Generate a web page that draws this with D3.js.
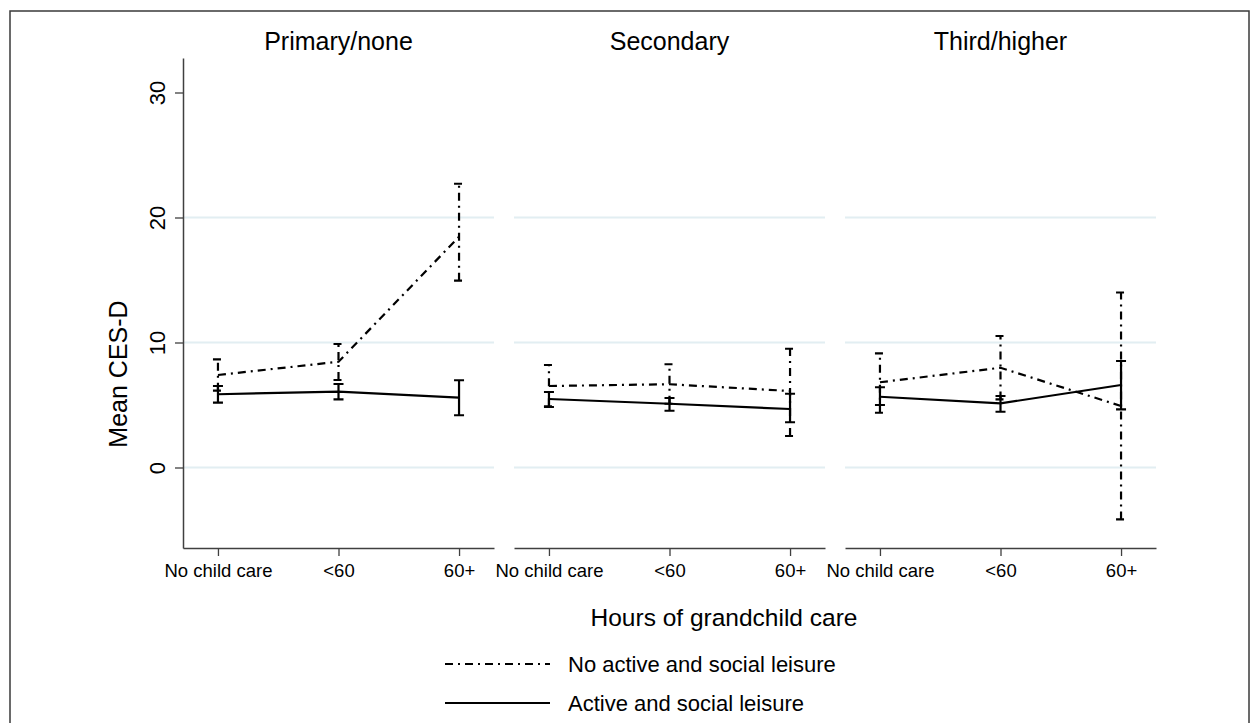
<!DOCTYPE html>
<html lang="en">
<head>
<meta charset="utf-8">
<title>Mean CES-D by hours of grandchild care</title>
<script src="https://d3js.org/d3.v7.min.js"></script>
<style>
  body { margin: 0; background: #fff; }
  svg { font-family: "Liberation Sans", Arial, sans-serif; }
</style>
</head>
<body>
<div id="chart"></div>
<script>
// categories and panels
var categories = ["No child care", "<60", "60+"];
var panels = ["Primary/none", "Secondary", "Third/higher"];
var yTicks = [0, 10, 20, 30];
var gridTicks = [0, 10, 20];

// No active and social leisure (dash-dot): mean, lower CI, upper CI per panel
var noLeisureMean = [[7.4, 8.46, 18.46], [6.52, 6.66, 6.12], [6.82, 7.98, 4.92]];
var noLeisureLo   = [[6.15, 7.0, 14.95], [4.9, 5.1, 2.52], [4.38, 5.45, -4.15]];
var noLeisureHi   = [[8.65, 9.88, 22.7], [8.2, 8.26, 9.5], [9.13, 10.52, 14.0]];

// Active and social leisure (solid)
var activeMean = [[5.86, 6.07, 5.59], [5.48, 5.1, 4.68], [5.66, 5.13, 6.6]];
var activeLo   = [[5.19, 5.45, 4.18], [4.84, 4.54, 3.62], [5.0, 4.46, 4.65]];
var activeHi   = [[6.52, 6.68, 6.98], [6.04, 5.56, 5.9], [6.42, 5.72, 8.52]];

var W = 1251, H = 723,
    plotTop = 58, plotBottom = 548,
    panelLeft = [183, 514, 845],
    panelWidth = 311,
    dashDot = "8,5,2,5";

var svg = d3.select("#chart").append("svg")
    .attr("width", W)
    .attr("height", H);

// outer frame
svg.append("rect")
    .attr("x", 10).attr("y", 11)
    .attr("width", 1239).attr("height", 730)
    .attr("fill", "none")
    .attr("stroke", "#3a3a3a")
    .attr("stroke-width", 1.5);

var y = d3.scaleLinear()
    .domain([-6.44, 32.76])
    .range([plotBottom, plotTop]);

var series = [
  { mean: noLeisureMean, lo: noLeisureLo, hi: noLeisureHi, dash: dashDot },
  { mean: activeMean, lo: activeLo, hi: activeHi, dash: null }
];

panels.forEach(function(title, p) {
  var x = d3.scalePoint()
      .domain(categories)
      .range([panelLeft[p], panelLeft[p] + panelWidth])
      .padding(0.29);

  var g = svg.append("g");

  // gridlines
  g.selectAll("line.grid")
      .data(gridTicks)
      .enter().append("line")
      .attr("class", "grid")
      .attr("x1", panelLeft[p]).attr("x2", panelLeft[p] + panelWidth)
      .attr("y1", function(d) { return y(d); })
      .attr("y2", function(d) { return y(d); })
      .attr("stroke", "#e2eef2")
      .attr("stroke-width", 2);

  // x axis
  var xAxis = g.append("g")
      .attr("transform", "translate(0," + plotBottom + ")")
      .call(d3.axisBottom(x).tickSize(8).tickSizeOuter(0).tickPadding(8));
  xAxis.select(".domain").attr("stroke", "#404040").attr("stroke-width", 1.5);
  xAxis.selectAll(".tick line").attr("stroke", "#404040").attr("stroke-width", 1.3);
  xAxis.selectAll(".tick text")
      .attr("font-size", 18.5)
      .attr("fill", "#000")
      .attr("font-family", "Liberation Sans, Arial, sans-serif");

  // y axis only on first panel
  if (p === 0) {
    var yAxis = g.append("g")
        .attr("transform", "translate(" + panelLeft[0] + ",0)")
        .call(d3.axisLeft(y).tickValues(yTicks).tickSize(8).tickSizeOuter(0).tickFormat(d3.format("d")));
    yAxis.select(".domain").attr("stroke", "#404040").attr("stroke-width", 1.5);
    yAxis.selectAll(".tick line").attr("stroke", "#404040").attr("stroke-width", 1.3);
    yAxis.selectAll(".tick text")
        .attr("font-size", 22)
        .attr("fill", "#000")
        .attr("font-family", "Liberation Sans, Arial, sans-serif")
        .attr("text-anchor", "middle")
        .attr("x", null).attr("dy", null)
        .attr("transform", "translate(-18,0) rotate(-90)");
  }

  // panel title
  g.append("text")
      .attr("x", panelLeft[p] + panelWidth / 2)
      .attr("y", 50)
      .attr("text-anchor", "middle")
      .attr("font-size", 25)
      .text(title);

  // series: error bars then connecting line
  series.forEach(function(s) {
    var rows = categories.map(function(c, i) {
      return { cat: c, mean: s.mean[p][i], lo: s.lo[p][i], hi: s.hi[p][i] };
    });

    g.selectAll(null)
        .data(rows)
        .enter().append("path")
        .attr("d", function(d) {
          var cx = x(d.cat);
          return "M" + (cx - 5) + "," + y(d.lo) + "H" + (cx + 5) +
                 "M" + cx + "," + y(d.lo) + "V" + y(d.hi) +
                 "M" + (cx - 5) + "," + y(d.hi) + "H" + (cx + 5);
        })
        .attr("fill", "none")
        .attr("stroke", "#000")
        .attr("stroke-width", 2.2)
        .attr("stroke-dasharray", s.dash);

    g.append("path")
        .datum(rows)
        .attr("d", d3.line()
            .x(function(d) { return x(d.cat); })
            .y(function(d) { return y(d.mean); }))
        .attr("fill", "none")
        .attr("stroke", "#000")
        .attr("stroke-width", 2.2)
        .attr("stroke-dasharray", s.dash);
  });
});

// axis titles
svg.append("text")
    .attr("transform", "translate(127,374) rotate(-90)")
    .attr("text-anchor", "middle")
    .attr("font-size", 25)
    .text("Mean CES-D");

svg.append("text")
    .attr("x", 724)
    .attr("y", 626)
    .attr("text-anchor", "middle")
    .attr("font-size", 24.5)
    .text("Hours of grandchild care");

// legend
var legendItems = [
  { label: "No active and social leisure", dash: dashDot, cy: 664 },
  { label: "Active and social leisure", dash: null, cy: 703 }
];
var legend = svg.append("g");
legendItems.forEach(function(d) {
  legend.append("line")
      .attr("x1", 445).attr("x2", 550)
      .attr("y1", d.cy).attr("y2", d.cy)
      .attr("stroke", "#000")
      .attr("stroke-width", 2.2)
      .attr("stroke-dasharray", d.dash);
  legend.append("text")
      .attr("x", 568)
      .attr("y", d.cy + 8)
      .attr("font-size", 22)
      .text(d.label);
});
</script>
</body>
</html>
